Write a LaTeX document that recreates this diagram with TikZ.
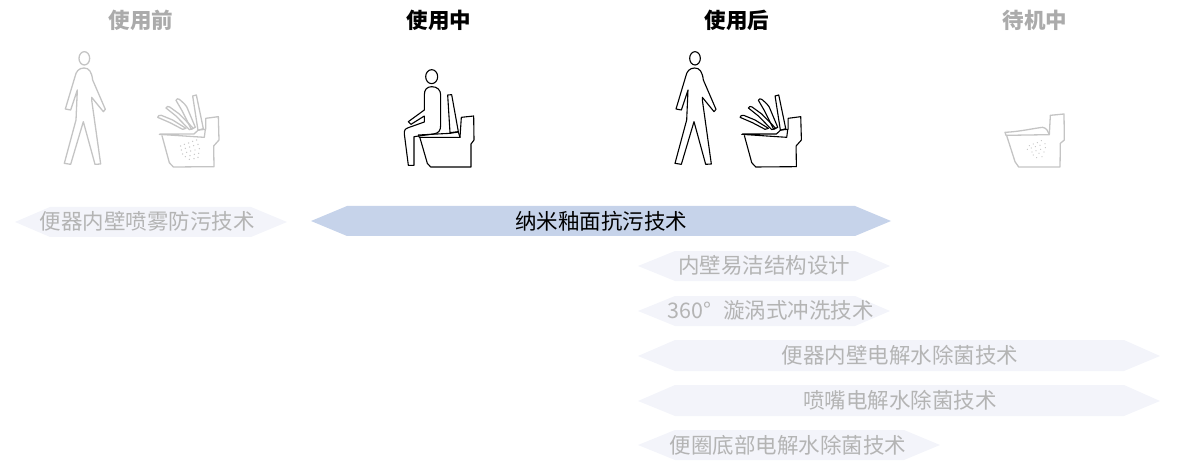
\documentclass[tikz,border=0pt]{standalone}
\usepackage{fontspec}
\setmainfont{Noto Sans CJK SC}
\definecolor{bandlight}{HTML}{F3F4FA}
\definecolor{bandmain}{HTML}{C6D3EA}
\definecolor{txtgray}{HTML}{B4B4B4}
\definecolor{icongray}{HTML}{C4C4C4}
\definecolor{headgray}{HTML}{ABABAB}
\tikzset{
  lbl/.style={font=\fontsize{21.5}{24}\selectfont,inner sep=0pt,text=txtgray},
  lblmain/.style={lbl,text=black},
  hdr/.style={font=\fontsize{21.5}{24}\selectfont\bfseries,inner sep=0pt,text=black},
  hdrgray/.style={hdr,text=headgray},
  iconline/.style={line width=1.1pt,line join=round,line cap=round,draw=black},
  grayicon/.style={iconline,draw=icongray,line width=1.3pt}
}
\newcommand{\walkerIcon}[1]{%
  \draw[#1] (133,55) ellipse [x radius=16,y radius=20];
  \draw[#1] (132,84) .. controls (116,84) and (108,95) .. (105,110)
      -- (76,207) -- (92,210) -- (112,150) -- (108,240) -- (73,370) -- (92,373)
      -- (130,245) -- (165,373) -- (182,372) -- (155,180) -- (155,172) -- (190,215) -- (196,208)
      -- (158,120) .. controls (155,95) and (147,84) .. (132,84) -- cycle;
}
\newcommand{\lidBowlIcon}[1]{%
  \draw[#1] (497,268) -- (497,235) -- (535,230) -- (537,300) -- (521,318) -- (522,380) -- (400,381) -- (388,368) -- (366,287);
  \draw[#1] (358,283) -- (493,292) -- (496,268) -- (475,270) -- (462,282) -- (360,282);
  \draw[#1] (458,168) -- (469,165) -- (490,266) -- (474,271) -- cycle;
  \draw[#1] (408,181) .. controls (410,176) and (414,175) .. (418,178) .. controls (430,188) and (441,198) .. (443,207) -- (466,262) -- (454,268) -- (426,212) -- cycle;
  \draw[#1] (378,204) .. controls (380,199) and (385,198) .. (389,201) -- (418,222) -- (460,265) -- (448,269) -- (408,228) -- cycle;
  \draw[#1] (353,232) .. controls (354,227) and (358,225) .. (364,226) -- (398,240) -- (438,265) -- (428,268) -- (390,248) -- cycle;
}
\begin{document}
\begin{tikzpicture}[x=1pt,y=-1pt]
\useasboundingbox (0,0) rectangle (1182,462);
% bands
\fill[bandlight] (15,222) -- (50,207) -- (251,207) -- (287,222) -- (251,237) -- (50,237) -- cycle;
\fill[bandmain] (311,221) -- (347,206) -- (855,206) -- (891,221) -- (855,236) -- (347,236) -- cycle;
\fill[bandlight] (638,266) -- (675,251) -- (855,251) -- (890,266) -- (855,281) -- (675,281) -- cycle;
\fill[bandlight] (638,311) -- (675,296) -- (855,296) -- (890,311) -- (855,326) -- (675,326) -- cycle;
\fill[bandlight] (638,356) -- (675,340) -- (1124,340) -- (1160,356) -- (1124,371) -- (675,371) -- cycle;
\fill[bandlight] (638,401) -- (675,385) -- (1124,385) -- (1160,401) -- (1124,416) -- (675,416) -- cycle;
\fill[bandlight] (638,445) -- (675,430) -- (904,430) -- (940,445) -- (904,460) -- (675,460) -- cycle;
% labels
\node[lbl] (a) at (147,221) {便器内壁喷雾防污技术};
\node[lblmain] (b) at (601,221) {纳米釉面抗污技术};
\node[lbl] (c) at (764,265) {内壁易洁结构设计};
\node[lbl] (d) at (770.5,310) {360°\hspace{12pt}漩涡式冲洗技术};
\node[lbl] (e) at (900,355) {便器内壁电解水除菌技术};
\node[lbl] (f) at (900,400) {喷嘴电解水除菌技术};
\node[lbl] (g) at (788,445) {便圈底部电解水除菌技术};
% headers
\node[hdrgray] (h1) at (141,20.5) {使用前};
\node[hdr] (h2) at (439,20.5) {使用中};
\node[hdr] (h3) at (737,20.5) {使用后};
\node[hdrgray] (h4) at (1035,20.5) {待机中};
% before
\begin{scope}[shift={(40,40)},scale=1/3]
  \walkerIcon{grayicon}
  \lidBowlIcon{grayicon}
  \foreach \u/\v in {422/318,433/313,446/309,458/304,470/300,
      424/330,436/325,449/321,461/317,474/313,
      428/342,440/337,452/333,465/330,478/326,
      436/350,450/347,463/343,476/340,
      448/358,462/356,474/352}
    \fill[icongray] (\u,\v) circle [radius=2.1];
\end{scope}
% during
\begin{scope}[shift={(390,60)},scale=1/3]
  \draw[iconline] (125,50) ellipse [x radius=18,y radius=21];
  \draw[iconline] (125,80) .. controls (110,80) and (103,90) .. (103,105) -- (103,150) -- (55,185) -- (63,193) -- (103,168) -- (103,186) -- (55,203) .. controls (45,206) and (42,212) .. (43,222) -- (55,316) -- (72,316) -- (72,230) -- (130,222) .. controls (146,220) and (152,212) .. (152,195) -- (152,105) .. controls (152,90) and (142,80) .. (125,80) -- cycle;
  \draw[iconline] (173,105) -- (185,104) -- (205,215) -- (180,218) -- cycle;
  \draw[iconline] (85,225) -- (180,220) -- (205,216) -- (210,232) -- (88,232) -- cycle;
  \draw[iconline] (210,232) -- (214,172) -- (251,168) -- (252,240) -- (243,252) -- (243,321) -- (122,321) -- (112,310) -- (90,234);
\end{scope}
% after
\begin{scope}[shift={(650.67,40)},scale=1/3]
  \walkerIcon{iconline}
\end{scope}
\begin{scope}[shift={(622.4,40)},scale=1/3]
  \lidBowlIcon{iconline}
\end{scope}
% standby
\begin{scope}[shift={(990,100)},scale=1/3]
  \draw[grayicon] (178,103) -- (181,46) -- (222,42) -- (223,120) -- (211,130) -- (210,201) -- (86,201) -- (75,185) -- (50,107);
  \draw[grayicon] (45,97) .. controls (90,95) and (130,85) .. (158,82) .. controls (170,84) and (175,95) .. (178,104) -- (48,106) -- cycle;
  \foreach \u/\v in {118/137,130/132,142/128,154/122,
      112/148,124/144,136/140,150/136,165/131,
      126/156,138/152,152/148,166/143,
      130/165,147/160,162/156,
      140/173,156/170}
    \fill[icongray] (\u,\v) circle [radius=1.9];
\end{scope}
\end{tikzpicture}
\end{document}
